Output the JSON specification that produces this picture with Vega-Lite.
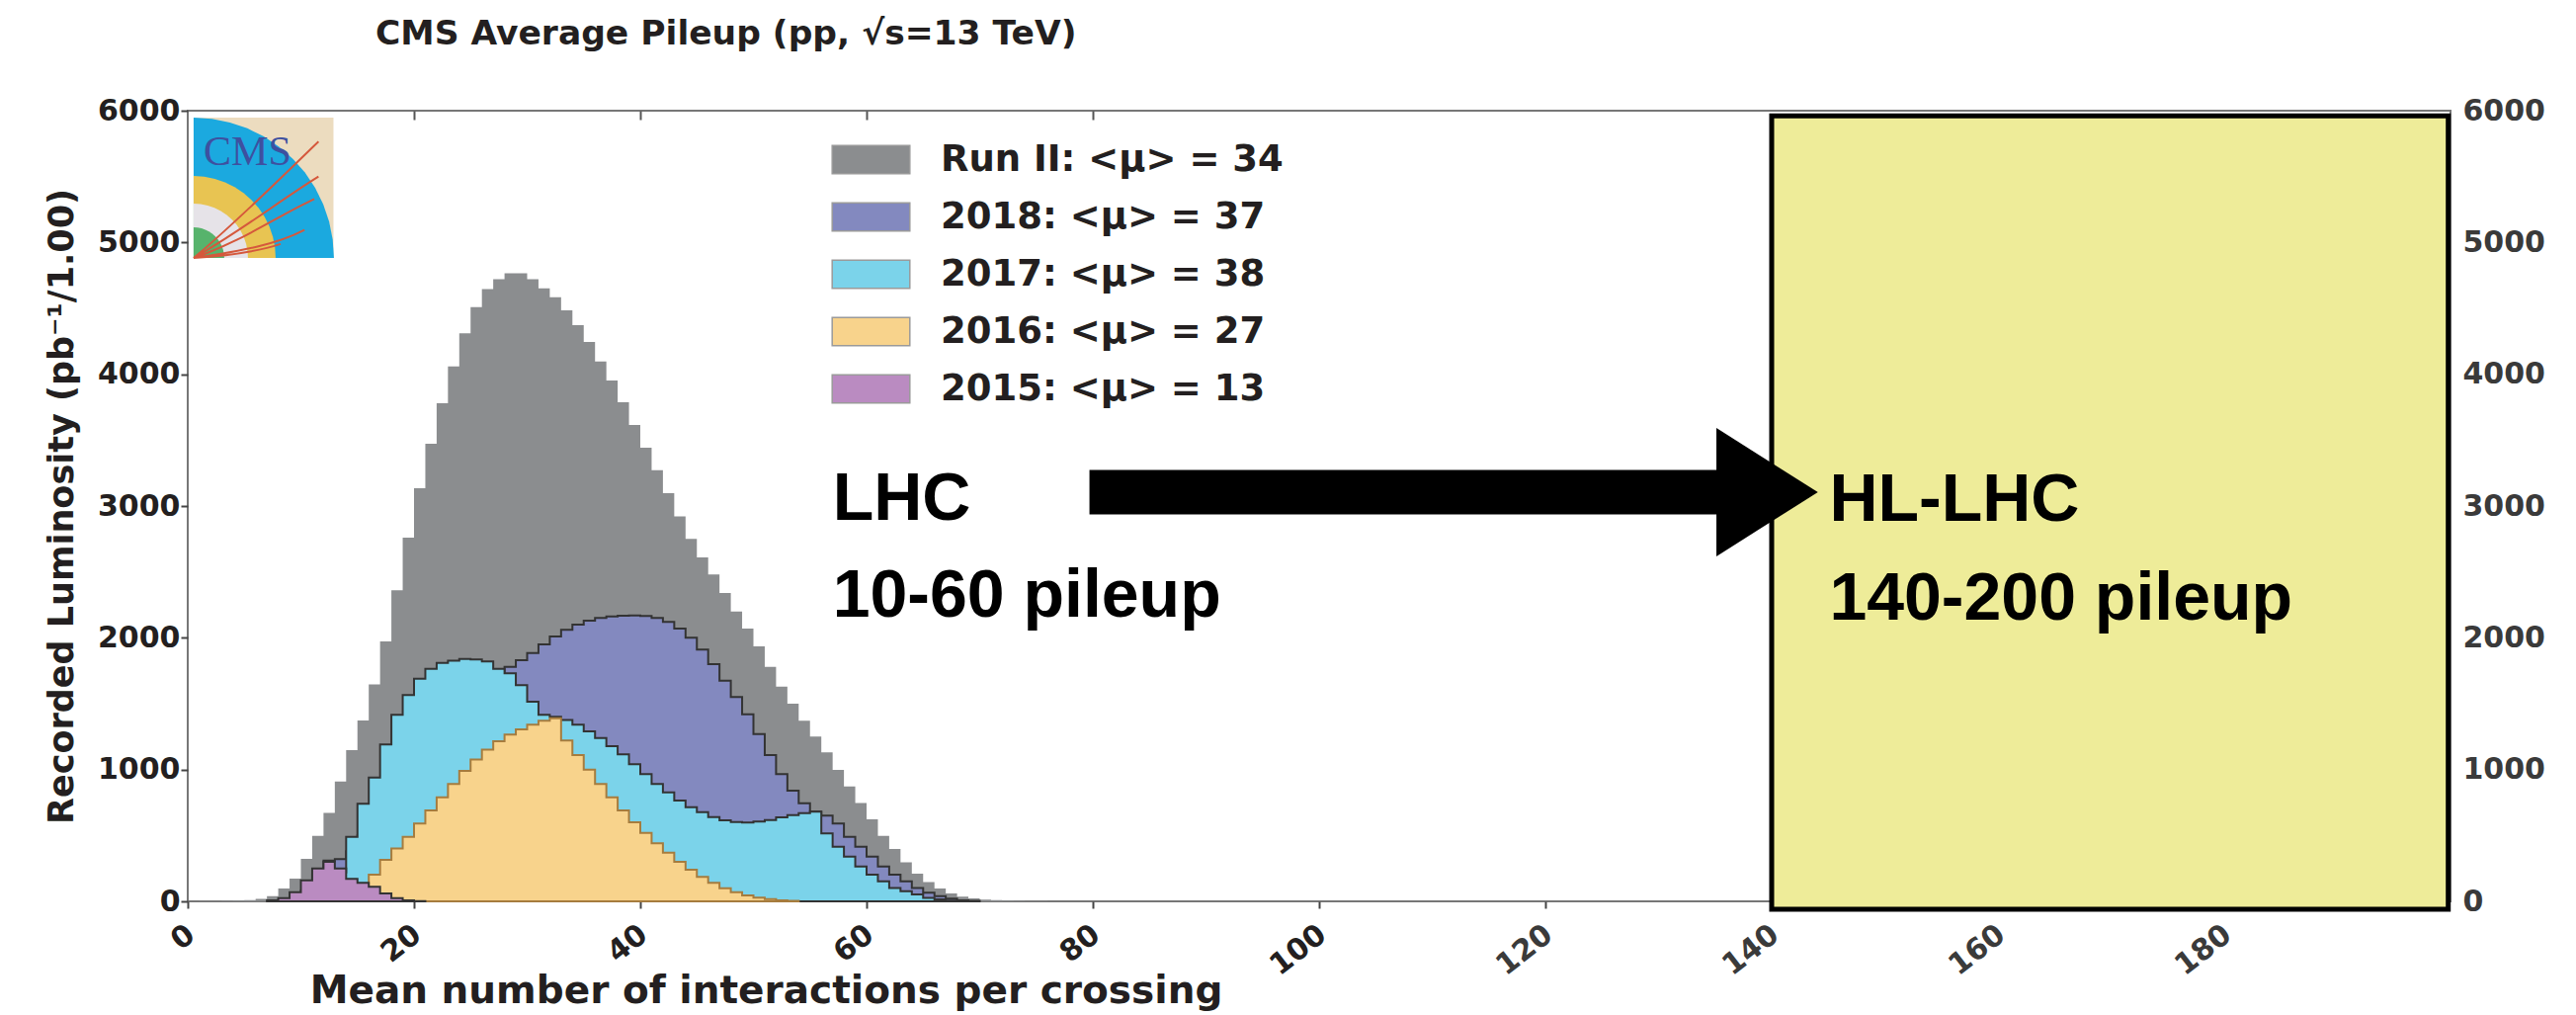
{
  "$schema": "https://vega.github.io/schema/vega-lite/v6.json",
  "width": 2290,
  "height": 800,
  "autosize": "none",
  "padding": {"left": 190, "top": 112, "right": 127, "bottom": 115},
  "background": "white",
  "config": {
    "view": {"stroke": "#777777", "strokeWidth": 2},
    "axis": {"grid": false}
  },
  "title": {
    "text": "CMS Average Pileup (pp, √s=13 TeV)",
    "anchor": "start",
    "frame": "group",
    "dx": 190,
    "offset": 18,
    "baseline": "alphabetic",
    "font": "DejaVu Sans",
    "fontSize": 34.5,
    "fontWeight": "bold",
    "color": "#231f20"
  },
  "datasets": {
    "hist": [
      {"mu":0,"lumi":0,"s":"Run II"},{"mu":1,"lumi":1,"s":"Run II"},{"mu":2,"lumi":2,"s":"Run II"},{"mu":3,"lumi":4,"s":"Run II"},{"mu":4,"lumi":6,"s":"Run II"},{"mu":5,"lumi":10,"s":"Run II"},{"mu":6,"lumi":18,"s":"Run II"},{"mu":7,"lumi":40,"s":"Run II"},{"mu":8,"lumi":97,"s":"Run II"},{"mu":9,"lumi":172,"s":"Run II"},{"mu":10,"lumi":322,"s":"Run II"},{"mu":11,"lumi":497,"s":"Run II"},{"mu":12,"lumi":672,"s":"Run II"},{"mu":13,"lumi":910,"s":"Run II"},{"mu":14,"lumi":1147,"s":"Run II"},{"mu":15,"lumi":1372,"s":"Run II"},{"mu":16,"lumi":1647,"s":"Run II"},{"mu":17,"lumi":1972,"s":"Run II"},{"mu":18,"lumi":2360,"s":"Run II"},{"mu":19,"lumi":2760,"s":"Run II"},{"mu":20,"lumi":3135,"s":"Run II"},{"mu":21,"lumi":3472,"s":"Run II"},{"mu":22,"lumi":3780,"s":"Run II"},{"mu":23,"lumi":4060,"s":"Run II"},{"mu":24,"lumi":4310,"s":"Run II"},{"mu":25,"lumi":4510,"s":"Run II"},{"mu":26,"lumi":4647,"s":"Run II"},{"mu":27,"lumi":4722,"s":"Run II"},{"mu":28,"lumi":4767,"s":"Run II"},{"mu":29,"lumi":4767,"s":"Run II"},{"mu":30,"lumi":4722,"s":"Run II"},{"mu":31,"lumi":4652,"s":"Run II"},{"mu":32,"lumi":4585,"s":"Run II"},{"mu":33,"lumi":4485,"s":"Run II"},{"mu":34,"lumi":4372,"s":"Run II"},{"mu":35,"lumi":4245,"s":"Run II"},{"mu":36,"lumi":4097,"s":"Run II"},{"mu":37,"lumi":3952,"s":"Run II"},{"mu":38,"lumi":3787,"s":"Run II"},{"mu":39,"lumi":3615,"s":"Run II"},{"mu":40,"lumi":3442,"s":"Run II"},{"mu":41,"lumi":3272,"s":"Run II"},{"mu":42,"lumi":3097,"s":"Run II"},{"mu":43,"lumi":2922,"s":"Run II"},{"mu":44,"lumi":2750,"s":"Run II"},{"mu":45,"lumi":2610,"s":"Run II"},{"mu":46,"lumi":2480,"s":"Run II"},{"mu":47,"lumi":2340,"s":"Run II"},{"mu":48,"lumi":2200,"s":"Run II"},{"mu":49,"lumi":2070,"s":"Run II"},{"mu":50,"lumi":1935,"s":"Run II"},{"mu":51,"lumi":1780,"s":"Run II"},{"mu":52,"lumi":1630,"s":"Run II"},{"mu":53,"lumi":1500,"s":"Run II"},{"mu":54,"lumi":1370,"s":"Run II"},{"mu":55,"lumi":1250,"s":"Run II"},{"mu":56,"lumi":1130,"s":"Run II"},{"mu":57,"lumi":997,"s":"Run II"},{"mu":58,"lumi":872,"s":"Run II"},{"mu":59,"lumi":747,"s":"Run II"},{"mu":60,"lumi":622,"s":"Run II"},{"mu":61,"lumi":497,"s":"Run II"},{"mu":62,"lumi":397,"s":"Run II"},{"mu":63,"lumi":297,"s":"Run II"},{"mu":64,"lumi":210,"s":"Run II"},{"mu":65,"lumi":147,"s":"Run II"},{"mu":66,"lumi":97,"s":"Run II"},{"mu":67,"lumi":60,"s":"Run II"},{"mu":68,"lumi":35,"s":"Run II"},{"mu":69,"lumi":22,"s":"Run II"},{"mu":70,"lumi":14,"s":"Run II"},{"mu":71,"lumi":9,"s":"Run II"},{"mu":72,"lumi":6,"s":"Run II"},{"mu":73,"lumi":4,"s":"Run II"},{"mu":74,"lumi":2,"s":"Run II"},{"mu":75,"lumi":1,"s":"Run II"},{"mu":76,"lumi":0,"s":"Run II"},

      {"mu":8,"lumi":10,"s":"2018"},{"mu":9,"lumi":30,"s":"2018"},{"mu":10,"lumi":80,"s":"2018"},{"mu":11,"lumi":200,"s":"2018"},{"mu":12,"lumi":310,"s":"2018"},{"mu":13,"lumi":320,"s":"2018"},{"mu":14,"lumi":380,"s":"2018"},{"mu":15,"lumi":500,"s":"2018"},{"mu":16,"lumi":640,"s":"2018"},{"mu":17,"lumi":790,"s":"2018"},{"mu":18,"lumi":940,"s":"2018"},{"mu":19,"lumi":1080,"s":"2018"},{"mu":20,"lumi":1210,"s":"2018"},{"mu":21,"lumi":1330,"s":"2018"},{"mu":22,"lumi":1440,"s":"2018"},{"mu":23,"lumi":1530,"s":"2018"},{"mu":24,"lumi":1600,"s":"2018"},{"mu":25,"lumi":1660,"s":"2018"},{"mu":26,"lumi":1700,"s":"2018"},{"mu":27,"lumi":1735,"s":"2018"},{"mu":28,"lumi":1780,"s":"2018"},{"mu":29,"lumi":1830,"s":"2018"},{"mu":30,"lumi":1885,"s":"2018"},{"mu":31,"lumi":1950,"s":"2018"},{"mu":32,"lumi":2010,"s":"2018"},{"mu":33,"lumi":2060,"s":"2018"},{"mu":34,"lumi":2100,"s":"2018"},{"mu":35,"lumi":2130,"s":"2018"},{"mu":36,"lumi":2150,"s":"2018"},{"mu":37,"lumi":2162,"s":"2018"},{"mu":38,"lumi":2168,"s":"2018"},{"mu":39,"lumi":2170,"s":"2018"},{"mu":40,"lumi":2165,"s":"2018"},{"mu":41,"lumi":2150,"s":"2018"},{"mu":42,"lumi":2120,"s":"2018"},{"mu":43,"lumi":2070,"s":"2018"},{"mu":44,"lumi":2000,"s":"2018"},{"mu":45,"lumi":1910,"s":"2018"},{"mu":46,"lumi":1800,"s":"2018"},{"mu":47,"lumi":1675,"s":"2018"},{"mu":48,"lumi":1550,"s":"2018"},{"mu":49,"lumi":1420,"s":"2018"},{"mu":50,"lumi":1270,"s":"2018"},{"mu":51,"lumi":1110,"s":"2018"},{"mu":52,"lumi":965,"s":"2018"},{"mu":53,"lumi":840,"s":"2018"},{"mu":54,"lumi":745,"s":"2018"},{"mu":55,"lumi":680,"s":"2018"},{"mu":56,"lumi":650,"s":"2018"},{"mu":57,"lumi":590,"s":"2018"},{"mu":58,"lumi":490,"s":"2018"},{"mu":59,"lumi":415,"s":"2018"},{"mu":60,"lumi":340,"s":"2018"},{"mu":61,"lumi":265,"s":"2018"},{"mu":62,"lumi":202,"s":"2018"},{"mu":63,"lumi":152,"s":"2018"},{"mu":64,"lumi":102,"s":"2018"},{"mu":65,"lumi":65,"s":"2018"},{"mu":66,"lumi":40,"s":"2018"},{"mu":67,"lumi":20,"s":"2018"},{"mu":68,"lumi":8,"s":"2018"},{"mu":69,"lumi":3,"s":"2018"},{"mu":70,"lumi":0,"s":"2018"},

      {"mu":9,"lumi":15,"s":"2017"},{"mu":10,"lumi":40,"s":"2017"},{"mu":11,"lumi":80,"s":"2017"},{"mu":12,"lumi":120,"s":"2017"},{"mu":13,"lumi":220,"s":"2017"},{"mu":14,"lumi":490,"s":"2017"},{"mu":15,"lumi":740,"s":"2017"},{"mu":16,"lumi":940,"s":"2017"},{"mu":17,"lumi":1190,"s":"2017"},{"mu":18,"lumi":1415,"s":"2017"},{"mu":19,"lumi":1565,"s":"2017"},{"mu":20,"lumi":1690,"s":"2017"},{"mu":21,"lumi":1765,"s":"2017"},{"mu":22,"lumi":1810,"s":"2017"},{"mu":23,"lumi":1827,"s":"2017"},{"mu":24,"lumi":1840,"s":"2017"},{"mu":25,"lumi":1835,"s":"2017"},{"mu":26,"lumi":1820,"s":"2017"},{"mu":27,"lumi":1765,"s":"2017"},{"mu":28,"lumi":1730,"s":"2017"},{"mu":29,"lumi":1640,"s":"2017"},{"mu":30,"lumi":1515,"s":"2017"},{"mu":31,"lumi":1415,"s":"2017"},{"mu":32,"lumi":1400,"s":"2017"},{"mu":33,"lumi":1377,"s":"2017"},{"mu":34,"lumi":1340,"s":"2017"},{"mu":35,"lumi":1290,"s":"2017"},{"mu":36,"lumi":1240,"s":"2017"},{"mu":37,"lumi":1177,"s":"2017"},{"mu":38,"lumi":1115,"s":"2017"},{"mu":39,"lumi":1040,"s":"2017"},{"mu":40,"lumi":965,"s":"2017"},{"mu":41,"lumi":890,"s":"2017"},{"mu":42,"lumi":827,"s":"2017"},{"mu":43,"lumi":765,"s":"2017"},{"mu":44,"lumi":715,"s":"2017"},{"mu":45,"lumi":677,"s":"2017"},{"mu":46,"lumi":640,"s":"2017"},{"mu":47,"lumi":615,"s":"2017"},{"mu":48,"lumi":602,"s":"2017"},{"mu":49,"lumi":598,"s":"2017"},{"mu":50,"lumi":605,"s":"2017"},{"mu":51,"lumi":617,"s":"2017"},{"mu":52,"lumi":638,"s":"2017"},{"mu":53,"lumi":655,"s":"2017"},{"mu":54,"lumi":670,"s":"2017"},{"mu":55,"lumi":680,"s":"2017"},{"mu":56,"lumi":515,"s":"2017"},{"mu":57,"lumi":415,"s":"2017"},{"mu":58,"lumi":340,"s":"2017"},{"mu":59,"lumi":265,"s":"2017"},{"mu":60,"lumi":202,"s":"2017"},{"mu":61,"lumi":152,"s":"2017"},{"mu":62,"lumi":102,"s":"2017"},{"mu":63,"lumi":77,"s":"2017"},{"mu":64,"lumi":52,"s":"2017"},{"mu":65,"lumi":27,"s":"2017"},{"mu":66,"lumi":15,"s":"2017"},{"mu":67,"lumi":6,"s":"2017"},{"mu":68,"lumi":2,"s":"2017"},{"mu":69,"lumi":0,"s":"2017"},

      {"mu":12,"lumi":10,"s":"2016"},{"mu":13,"lumi":30,"s":"2016"},{"mu":14,"lumi":60,"s":"2016"},{"mu":15,"lumi":120,"s":"2016"},{"mu":16,"lumi":203,"s":"2016"},{"mu":17,"lumi":315,"s":"2016"},{"mu":18,"lumi":402,"s":"2016"},{"mu":19,"lumi":490,"s":"2016"},{"mu":20,"lumi":590,"s":"2016"},{"mu":21,"lumi":690,"s":"2016"},{"mu":22,"lumi":790,"s":"2016"},{"mu":23,"lumi":890,"s":"2016"},{"mu":24,"lumi":990,"s":"2016"},{"mu":25,"lumi":1077,"s":"2016"},{"mu":26,"lumi":1152,"s":"2016"},{"mu":27,"lumi":1215,"s":"2016"},{"mu":28,"lumi":1265,"s":"2016"},{"mu":29,"lumi":1305,"s":"2016"},{"mu":30,"lumi":1340,"s":"2016"},{"mu":31,"lumi":1370,"s":"2016"},{"mu":32,"lumi":1390,"s":"2016"},{"mu":33,"lumi":1220,"s":"2016"},{"mu":34,"lumi":1110,"s":"2016"},{"mu":35,"lumi":1000,"s":"2016"},{"mu":36,"lumi":890,"s":"2016"},{"mu":37,"lumi":790,"s":"2016"},{"mu":38,"lumi":690,"s":"2016"},{"mu":39,"lumi":600,"s":"2016"},{"mu":40,"lumi":520,"s":"2016"},{"mu":41,"lumi":440,"s":"2016"},{"mu":42,"lumi":370,"s":"2016"},{"mu":43,"lumi":300,"s":"2016"},{"mu":44,"lumi":240,"s":"2016"},{"mu":45,"lumi":185,"s":"2016"},{"mu":46,"lumi":140,"s":"2016"},{"mu":47,"lumi":100,"s":"2016"},{"mu":48,"lumi":70,"s":"2016"},{"mu":49,"lumi":45,"s":"2016"},{"mu":50,"lumi":28,"s":"2016"},{"mu":51,"lumi":16,"s":"2016"},{"mu":52,"lumi":8,"s":"2016"},{"mu":53,"lumi":4,"s":"2016"},{"mu":54,"lumi":0,"s":"2016"},

      {"mu":7,"lumi":8,"s":"2015"},{"mu":8,"lumi":25,"s":"2015"},{"mu":9,"lumi":70,"s":"2015"},{"mu":10,"lumi":160,"s":"2015"},{"mu":11,"lumi":250,"s":"2015"},{"mu":12,"lumi":300,"s":"2015"},{"mu":13,"lumi":250,"s":"2015"},{"mu":14,"lumi":170,"s":"2015"},{"mu":15,"lumi":140,"s":"2015"},{"mu":16,"lumi":110,"s":"2015"},{"mu":17,"lumi":60,"s":"2015"},{"mu":18,"lumi":25,"s":"2015"},{"mu":19,"lumi":8,"s":"2015"},{"mu":20,"lumi":2,"s":"2015"},{"mu":21,"lumi":0,"s":"2015"}
    ]
  },
  "resolve": {"axis": {"x": "independent", "y": "independent"}},
  "layer": [
    {
      "data": {"name": "hist"},
      "transform": [{"filter": "datum.s == 'Run II'"}],
      "mark": {"type": "area", "interpolate": "step-after"},
      "encoding": {
        "x": {
          "field": "mu", "type": "quantitative",
          "scale": {"domain": [0, 200], "nice": false, "zero": false},
          "axis": {
            "orient": "bottom",
            "values": [0, 20, 40, 60, 80, 100, 120, 140, 160, 180],
            "format": "d",
            "title": "Mean number of interactions per crossing",
            "titleFont": "DejaVu Sans", "titleFontSize": 39, "titleFontWeight": "bold", "titleColor": "#231f20",
            "titleX": 585, "titleY": 102, "titleAlign": "center", "titleBaseline": "alphabetic",
            "labelAngle": -38, "labelAlign": "right", "labelBaseline": "top",
            "labelFont": "DejaVu Sans", "labelFontSize": 30, "labelFontWeight": "bold",
            "labelColor": {"condition": {"test": "datum.value > 100", "value": "#3a3a3a"}, "value": "#231f20"},
            "labelPadding": 11, "labelOffset": -6, "labelFlush": false, "labelOverlap": false,
            "tickSize": 7, "tickWidth": 2, "tickColor": "#444444", "domain": false, "grid": false
          }
        },
        "y": {
          "field": "lumi", "type": "quantitative", "stack": null,
          "scale": {"domain": [0, 6000], "nice": false},
          "axis": {
            "orient": "left",
            "values": [0, 1000, 2000, 3000, 4000, 5000, 6000],
            "format": "d",
            "title": "Recorded Luminosity (pb⁻¹/1.00)",
            "titleFont": "DejaVu Sans", "titleFontSize": 35, "titleFontWeight": "bold", "titleColor": "#231f20",
            "titleAngle": -90, "titleX": -117, "titleY": 400, "titleAlign": "center", "titleBaseline": "alphabetic",
            "labelFont": "DejaVu Sans", "labelFontSize": 30, "labelFontWeight": "bold", "labelColor": "#231f20",
            "labelPadding": 1, "tickSize": 7, "tickWidth": 2, "tickColor": "#444444", "domain": false, "grid": false
          }
        },
        "color": {
          "field": "s", "type": "nominal",
          "scale": {
            "domain": ["Run II", "2018", "2017", "2016", "2015"],
            "range": ["#8b8d8f", "#8389bf", "#7bd3ea", "#f8d38c", "#ba8bc1"]
          },
          "legend": {
            "orient": "none", "legendX": 671, "legendY": 29, "title": null, "padding": 0,
            "symbolType": "M-2,-0.72H2V0.72H-2Z", "symbolSize": 1544,
            "symbolStrokeColor": "#9a9a9a", "symbolStrokeWidth": 1.5, "symbolOpacity": 1,
            "labelFont": "DejaVu Sans", "labelFontSize": 37, "labelFontWeight": "bold", "labelColor": "#231f20",
            "labelOffset": 50, "labelLimit": 1000, "rowPadding": 19,
            "labelExpr": "datum.label == 'Run II' ? 'Run II: <μ> = 34' : datum.label == '2018' ? '2018: <μ> = 37' : datum.label == '2017' ? '2017: <μ> = 38' : datum.label == '2016' ? '2016: <μ> = 27' : '2015: <μ> = 13'",
            "encode": {"symbols": {"update": {"stroke": {"value": "#9a9a9a"}, "strokeWidth": {"value": 1.5}, "opacity": {"value": 1}}}}
          }
        }
      }
    },
    {
      "data": {"name": "hist"},
      "transform": [{"filter": "datum.s == '2018'"}],
      "mark": {"type": "area", "interpolate": "step-after", "stroke": "#333333", "strokeWidth": 2, "strokeJoin": "miter"},
      "encoding": {
        "x": {"field": "mu", "type": "quantitative", "axis": null},
        "y": {"field": "lumi", "type": "quantitative", "stack": null, "axis": null},
        "color": {"field": "s", "type": "nominal"}
      }
    },
    {
      "data": {"name": "hist"},
      "transform": [{"filter": "datum.s == '2017'"}],
      "mark": {"type": "area", "interpolate": "step-after", "stroke": "#333333", "strokeWidth": 2, "strokeJoin": "miter"},
      "encoding": {
        "x": {"field": "mu", "type": "quantitative", "axis": null},
        "y": {"field": "lumi", "type": "quantitative", "stack": null, "axis": null},
        "color": {"field": "s", "type": "nominal"}
      }
    },
    {
      "data": {"name": "hist"},
      "transform": [{"filter": "datum.s == '2016'"}],
      "mark": {"type": "area", "interpolate": "step-after", "stroke": "#a67c3e", "strokeWidth": 2, "strokeJoin": "miter"},
      "encoding": {
        "x": {"field": "mu", "type": "quantitative", "axis": null},
        "y": {"field": "lumi", "type": "quantitative", "stack": null, "axis": null},
        "color": {"field": "s", "type": "nominal"}
      }
    },
    {
      "data": {"name": "hist"},
      "transform": [{"filter": "datum.s == '2015'"}],
      "mark": {"type": "area", "interpolate": "step-after", "stroke": "#333333", "strokeWidth": 2, "strokeJoin": "miter"},
      "encoding": {
        "x": {"field": "mu", "type": "quantitative", "axis": null},
        "y": {"field": "lumi", "type": "quantitative", "stack": null, "axis": null},
        "color": {"field": "s", "type": "nominal"}
      }
    },
    {
      "data": {"values": [{"x": 0.52, "x2": 12.88, "y": 4882, "y2": 5947}]},
      "mark": {"type": "rect", "fill": "#ecdcbf"},
      "encoding": {
        "x": {
          "field": "x", "type": "quantitative",
          "axis": {"orient": "top", "values": [20, 40, 60, 80], "labels": false, "title": null, "domain": false, "grid": false, "tickSize": -9, "tickWidth": 2, "tickColor": "#555555"}
        },
        "x2": {"field": "x2"},
        "y": {"field": "y", "type": "quantitative", "axis": null},
        "y2": {"field": "y2"}
      }
    },
    {
      "data": {"values": [{"x": 0.52, "y": 4882}]},
      "layer": [
        {"mark": {"type": "point", "shape": "M0,0L1,0L0.9914,-0.1305L0.9659,-0.2588L0.9239,-0.3827L0.866,-0.5L0.7934,-0.6088L0.7071,-0.7071L0.6088,-0.7934L0.5,-0.866L0.3827,-0.9239L0.2588,-0.9659L0.1305,-0.9914L0,-1Z", "size": 80656, "filled": true, "fill": "#1ba9df", "opacity": 1, "strokeWidth": 0}},
        {"mark": {"type": "point", "shape": "M0,0L1,0L0.9914,-0.1305L0.9659,-0.2588L0.9239,-0.3827L0.866,-0.5L0.7934,-0.6088L0.7071,-0.7071L0.6088,-0.7934L0.5,-0.866L0.3827,-0.9239L0.2588,-0.9659L0.1305,-0.9914L0,-1Z", "size": 27556, "filled": true, "fill": "#e8c452", "opacity": 1, "strokeWidth": 0}},
        {"mark": {"type": "point", "shape": "M0,0L1,0L0.9914,-0.1305L0.9659,-0.2588L0.9239,-0.3827L0.866,-0.5L0.7934,-0.6088L0.7071,-0.7071L0.6088,-0.7934L0.5,-0.866L0.3827,-0.9239L0.2588,-0.9659L0.1305,-0.9914L0,-1Z", "size": 12100, "filled": true, "fill": "#e6e3e8", "opacity": 1, "strokeWidth": 0}},
        {"mark": {"type": "point", "shape": "M0,0L1,0L0.9914,-0.1305L0.9659,-0.2588L0.9239,-0.3827L0.866,-0.5L0.7934,-0.6088L0.7071,-0.7071L0.6088,-0.7934L0.5,-0.866L0.3827,-0.9239L0.2588,-0.9659L0.1305,-0.9914L0,-1Z", "size": 3844, "filled": true, "fill": "#57b36c", "opacity": 1, "strokeWidth": 0}},
        {"mark": {"type": "point", "shape": "M0,0C0.3,-0.25 0.6,-0.55 0.89,-0.83M0,0C0.35,-0.2 0.6,-0.4 0.89,-0.58M0,0C0.35,-0.12 0.6,-0.3 0.86,-0.42M0,0C0.35,-0.05 0.6,-0.1 0.79,-0.2M0,0C0.3,-0.02 0.5,-0.06 0.62,-0.1", "size": 80656, "filled": false, "stroke": "#d5583c", "strokeWidth": 2, "opacity": 1}}
      ],
      "encoding": {
        "x": {"field": "x", "type": "quantitative", "axis": null},
        "y": {"field": "y", "type": "quantitative", "axis": null}
      }
    },
    {
      "data": {"values": [{"x": 1.4, "y": 5590, "t": "CMS"}]},
      "mark": {"type": "text", "align": "left", "baseline": "alphabetic", "font": "Liberation Serif", "fontSize": 42, "color": "#3e50a0"},
      "encoding": {
        "x": {"field": "x", "type": "quantitative", "axis": null},
        "y": {"field": "y", "type": "quantitative", "axis": null},
        "text": {"field": "t"}
      }
    },
    {
      "data": {"values": [{"x": 140, "x2": 199.8, "y": -60, "y2": 5960}]},
      "mark": {"type": "rect", "fill": "#eeec99", "stroke": "#000000", "strokeWidth": 5},
      "encoding": {
        "x": {"field": "x", "type": "quantitative", "axis": null},
        "x2": {"field": "x2"},
        "y": {
          "field": "y", "type": "quantitative",
          "axis": {
            "orient": "right", "values": [0, 1000, 2000, 3000, 4000, 5000, 6000], "format": "d", "title": null,
            "labelFont": "DejaVu Sans", "labelFontSize": 30, "labelFontWeight": "bold", "labelColor": "#3a3a3a",
            "labelPadding": 12, "ticks": false, "domain": false, "grid": false
          }
        },
        "y2": {"field": "y2"}
      }
    },
    {
      "data": {"values": [{"x": 79.7, "x2": 135.5, "y": 3105}]},
      "mark": {"type": "rule", "strokeWidth": 45, "color": "#000000", "strokeCap": "butt"},
      "encoding": {
        "x": {"field": "x", "type": "quantitative", "axis": null},
        "x2": {"field": "x2"},
        "y": {"field": "y", "type": "quantitative", "axis": null}
      }
    },
    {
      "data": {"values": [{"x": 139.6, "y": 3105}]},
      "mark": {"type": "point", "shape": "M-0.79,-1L0.79,0L-0.79,1Z", "size": 16900, "filled": true, "fill": "#000000", "opacity": 1, "strokeWidth": 0},
      "encoding": {
        "x": {"field": "x", "type": "quantitative", "axis": null},
        "y": {"field": "y", "type": "quantitative", "axis": null}
      }
    },
    {
      "data": {"values": [
        {"x": 57.0, "y": 2895, "t": "LHC"},
        {"x": 57.0, "y": 2160, "t": "10-60 pileup"},
        {"x": 145.1, "y": 2887, "t": "HL-LHC"},
        {"x": 145.1, "y": 2141, "t": "140-200 pileup"}
      ]},
      "mark": {"type": "text", "align": "left", "baseline": "alphabetic", "font": "Liberation Sans", "fontWeight": "bold", "fontSize": 68, "color": "#000000"},
      "encoding": {
        "x": {"field": "x", "type": "quantitative", "axis": null},
        "y": {"field": "y", "type": "quantitative", "axis": null},
        "text": {"field": "t"}
      }
    }
  ]
}
